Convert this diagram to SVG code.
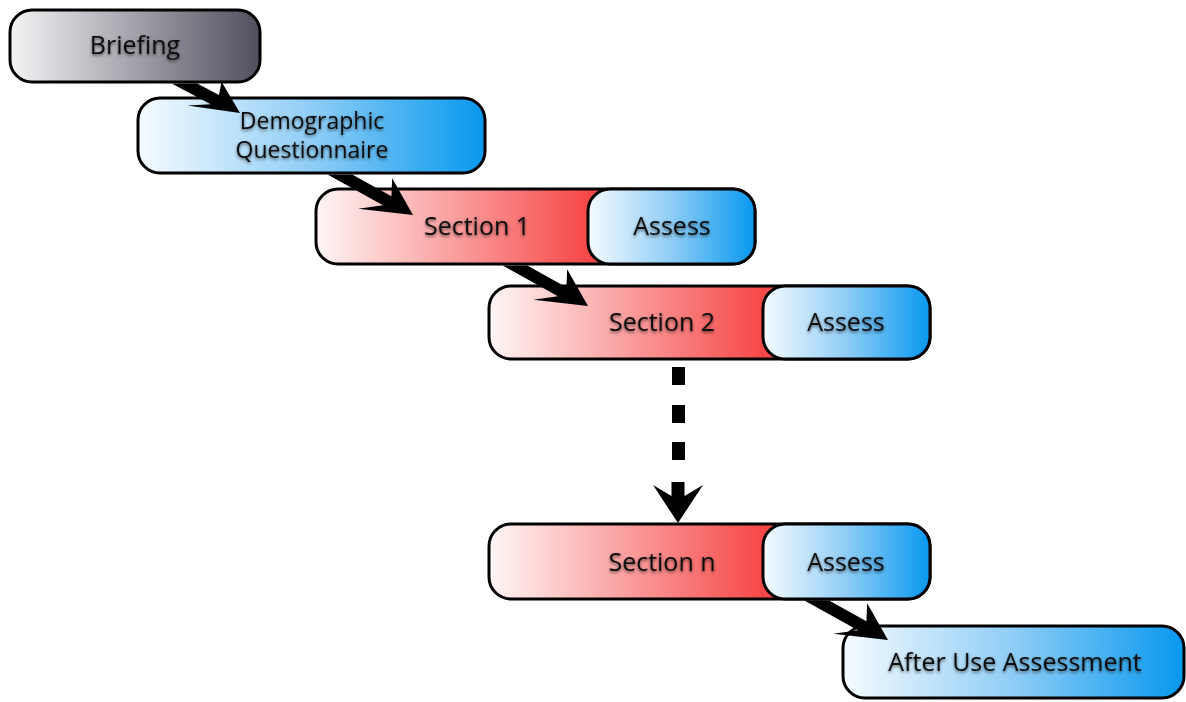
<svg xmlns="http://www.w3.org/2000/svg" width="1186" height="702" viewBox="0 0 1186 702">
  <defs>
    <linearGradient id="gradGrey" x1="0" y1="0" x2="1" y2="0">
      <stop offset="0" stop-color="#f4f4f6"/>
      <stop offset="1" stop-color="#4f4f5e"/>
    </linearGradient>
    <linearGradient id="gradBlue" x1="0" y1="0" x2="1" y2="0">
      <stop offset="0" stop-color="#f6fbff"/>
      <stop offset="0.5" stop-color="#8fcdf6"/>
      <stop offset="1" stop-color="#0798ee"/>
    </linearGradient>
    <linearGradient id="gradRed" x1="0" y1="0" x2="1" y2="0">
      <stop offset="0" stop-color="#fff6f6"/>
      <stop offset="0.62" stop-color="#f64848"/>
      <stop offset="1" stop-color="#f64848"/>
    </linearGradient>
    <filter id="textShadow" x="-10%" y="-30%" width="120%" height="160%">
      <feDropShadow dx="0" dy="1.5" stdDeviation="1.5" flood-color="#000" flood-opacity="0.6"/>
    </filter>
  </defs>
  <style>
    .box { stroke: #000; stroke-width: 3; }
    .label { font-family: "Open Sans", "Lato", "Liberation Sans", sans-serif; font-size: 25px; font-weight: 500; fill: #111; text-anchor: middle; filter: url(#textShadow); }
    .small { font-size: 23px; }
    .arrow { fill: #000; }
  </style>

  <rect width="1186" height="702" fill="#fff"/>

  <g id="briefing">
    <rect class="box" x="10" y="10" width="250" height="72" rx="22" fill="url(#gradGrey)"/>
    <text class="label" x="135" y="54">Briefing</text>
  </g>

  <g id="demographic">
    <rect class="box" x="138" y="98" width="347" height="75" rx="22" fill="url(#gradBlue)"/>
    <text class="label small" x="312" y="129">Demographic</text>
    <text class="label small" x="312" y="158">Questionnaire</text>
  </g>

  <g id="section1">
    <rect class="box" x="316" y="189" width="439" height="75" rx="22" fill="url(#gradRed)"/>
    <rect class="box" x="588" y="189" width="167" height="75" rx="22" fill="url(#gradBlue)"/>
    <text class="label" x="477" y="235">Section 1</text>
    <text class="label" x="672" y="235">Assess</text>
  </g>

  <g id="section2">
    <rect class="box" x="489" y="286" width="441" height="73" rx="22" fill="url(#gradRed)"/>
    <rect class="box" x="763" y="286" width="167" height="73" rx="22" fill="url(#gradBlue)"/>
    <text class="label" x="662" y="331">Section 2</text>
    <text class="label" x="846" y="331">Assess</text>
  </g>

  <g id="sectionN">
    <rect class="box" x="489" y="524" width="441" height="75" rx="22" fill="url(#gradRed)"/>
    <rect class="box" x="763" y="524" width="167" height="75" rx="22" fill="url(#gradBlue)"/>
    <text class="label" x="662" y="571">Section n</text>
    <text class="label" x="846" y="571">Assess</text>
  </g>

  <g id="afterUse">
    <rect class="box" x="843" y="626" width="341" height="72" rx="22" fill="url(#gradBlue)"/>
    <text class="label" x="1015" y="671">After Use Assessment</text>
  </g>

  <g id="connectors">
    <!-- diagonal arrows: tip at origin, shaft runs back along -x; start edge is level with the source box -->
    <path class="arrow" transform="translate(240,113) rotate(28)" d="M-74.2,6 L-51.6,-6 L-27,-6 L-31,-19 L0,0 L-50,18 L-30,6 Z"/>
    <path class="arrow" transform="translate(413,215) rotate(29)" d="M-94.4,6 L-72.8,-6 L-28,-6 L-36,-22 L0,0 L-51,21 L-31,6 Z"/>
    <path class="arrow" transform="translate(588,306) rotate(29)" d="M-94.4,6 L-72.8,-6 L-28,-6 L-36,-22 L0,0 L-51,21 L-31,6 Z"/>
    <path class="arrow" transform="translate(888,640) rotate(29)" d="M-92.3,6 L-70.7,-6 L-28,-6 L-36,-22 L0,0 L-51,21 L-31,6 Z"/>
    <!-- dashed vertical arrow -->
    <rect class="arrow" x="672" y="367" width="13" height="18"/>
    <rect class="arrow" x="672" y="405" width="13" height="18"/>
    <rect class="arrow" x="672" y="442" width="13" height="18"/>
    <path class="arrow" transform="translate(678,523) rotate(90)" d="M-41,-6.5 L-27,-6.5 L-38,-25 L0,0 L-38,25 L-27,6.5 L-41,6.5 Z"/>
  </g>
</svg>
